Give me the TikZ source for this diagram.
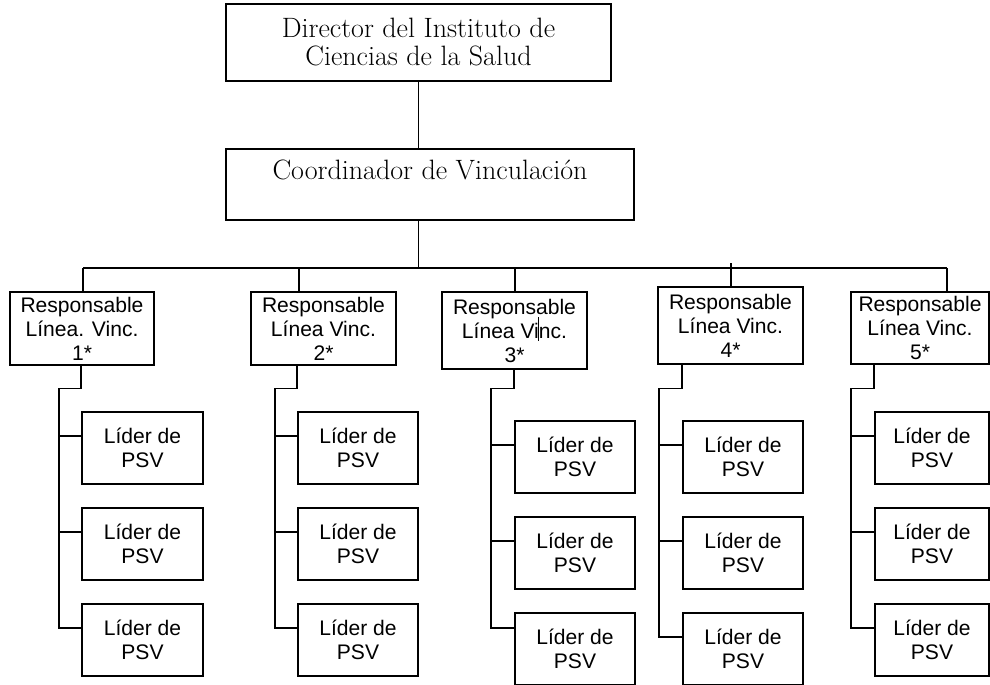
\documentclass[tikz,border=0pt]{standalone}
\usepackage{fontspec}
\newfontfamily\arialfont{Liberation Sans}
\newlength{\orgunit}
\setlength{\orgunit}{0.75pt}

\begin{document}
\begin{tikzpicture}[x=1\orgunit,y=-1\orgunit,
  box/.style n args={2}{rectangle,draw,line width=1.3pt,minimum width=#1\orgunit,minimum height=#2\orgunit,inner sep=0pt,align=center},
  headbox/.style={font=\fontsize{21}{21}\selectfont},
  linebox/.style={font=\arialfont\fontsize{15.8}{18}\selectfont},
  conn/.style={line width=1.3pt}]
  \fill[white] (0,0) rectangle (990,685);
  \useasboundingbox (0,0) rectangle (990,685);
  % direccion y coordinacion
  \node[box={385}{77},headbox] (dir) at (418.5,42.5) {Director del Instituto de\\Ciencias de la Salud};
  \node[box={408}{71},headbox,text height=12pt,text depth=18.75pt] (coord) at (430,184.5) {Coordinador de Vinculación};
  % responsables de linea
  \node[box={144}{73},linebox] (r1) at (82,328.5) {Responsable\\Línea. Vinc.\\1*};
  \node[box={145}{73},linebox] (r2) at (323.5,328.5) {Responsable\\Línea Vinc.\\2*};
  \node[box={145}{77},linebox] (r3) at (514.5,330.5) {Responsable\\Línea Vinc.\\3*};
  \node[box={145}{77},linebox] (r4) at (730.5,325.5) {Responsable\\Línea Vinc.\\4*};
  \node[box={138}{72},linebox] (r5) at (920,328) {Responsable\\Línea Vinc.\\5*};
  \draw[line width=0.8pt] (538.7,317) -- (538.7,341);
  % lideres de PSV
  \foreach \c/\lx/\tx/\ty/\lw/\off in %
  {1/82/59/412/121/12,2/298/275/412/120/12,3/515/491/421/120/21,4/683/659/421/120/12,5/875/851/412/114/12} {
    \foreach \k in {1,2,3}
      \node[box={\lw}{72},linebox] (l\c\k) at (\lx+\lw/2,\ty+36+96*\k-96) {Líder de\\PSV};
    \coordinate (j\c) at (\tx,388.5);
    \draw[conn] (r\c.south -| l\c1.west) |- (j\c) |- ([yshift=\off\orgunit]l\c3.west);
    \draw[conn] ([yshift=12\orgunit]l\c1.west) -| (j\c);
    \draw[conn] ([yshift=12\orgunit]l\c2.west) -| (j\c);
  }
  % barra principal
  \foreach \c/\bx in {1/83,2/299,3/515,4/731,5/947}
    \coordinate (b\c) at (\bx,268);
  \draw[conn] (b1) -- (b5);
  \foreach \c in {1,2,3,5}
    \draw[conn] (b\c) -- (b\c |- r\c.north);
  \coordinate (s4) at (731,263);
  \draw[conn] (s4) -- (s4 |- r4.north);
  \draw[conn] (dir.south) -- (dir.south |- coord.north);
  \draw[conn] (dir.south |- coord.south) -- (dir.south |- b1);
\end{tikzpicture}
\end{document}
